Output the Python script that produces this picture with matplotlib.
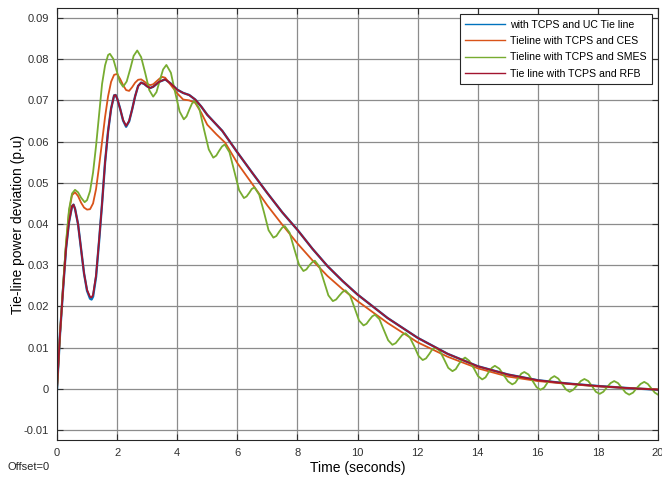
import matplotlib
matplotlib.use("Agg")
import matplotlib.pyplot as plt

plt.rcParams['font.family'] = ['Liberation Sans', 'DejaVu Sans']

# TCPS + UC and TCPS + RFB (almost on top of each other)
t_uc = [0, 0.1, 0.2, 0.3, 0.4, 0.5, 0.55, 0.6, 0.7, 0.8, 0.9, 1.0, 1.1, 1.15, 1.2, 1.3, 1.4, 1.5,
        1.6, 1.7, 1.8, 1.9, 1.95, 2.0, 2.1, 2.2, 2.3, 2.4, 2.5, 2.6, 2.7, 2.8, 2.9, 3.0, 3.1, 3.2,
        3.4, 3.6, 3.8, 4.0, 4.2, 4.4, 4.6, 4.8, 5.0, 5.5, 6.0, 6.5, 7.0, 7.5, 8.0, 8.5, 9.0, 9.5,
        10, 11, 12, 13, 14, 15, 16, 17, 18, 19, 20]
uc = [0, 0.0133, 0.0240, 0.0340, 0.0405, 0.0443, 0.0447, 0.0437, 0.0400, 0.0340, 0.0280, 0.0238,
      0.0219, 0.0217, 0.0224, 0.0272, 0.0358, 0.0450, 0.0550, 0.0625, 0.0680, 0.0712, 0.0713,
      0.0705, 0.0680, 0.0651, 0.0636, 0.0649, 0.0678, 0.0710, 0.0735, 0.0743, 0.0740, 0.0734,
      0.0730, 0.0733, 0.0745, 0.0751, 0.0740, 0.0726, 0.0718, 0.0713, 0.0702, 0.0685, 0.0665,
      0.0626, 0.0574, 0.0524, 0.0475, 0.0428, 0.0386, 0.0340, 0.0298, 0.0262, 0.0229, 0.0172,
      0.0124, 0.0085, 0.0055, 0.0035, 0.0021, 0.0013, 0.0007, 0.0002, -0.0002]
rfb = [0, 0.0133, 0.0240, 0.0340, 0.0405, 0.0443, 0.0447, 0.0437, 0.0400, 0.0340, 0.0280, 0.0240,
       0.0223, 0.0222, 0.0228, 0.0275, 0.0360, 0.0450, 0.0550, 0.0625, 0.0680, 0.0712, 0.0713,
       0.0705, 0.0680, 0.0652, 0.0638, 0.0650, 0.0678, 0.0710, 0.0735, 0.0743, 0.0740, 0.0734,
       0.0730, 0.0733, 0.0745, 0.0751, 0.0740, 0.0726, 0.0718, 0.0713, 0.0702, 0.0685, 0.0665,
       0.0626, 0.0574, 0.0524, 0.0475, 0.0428, 0.0386, 0.0340, 0.0298, 0.0262, 0.0229, 0.0172,
       0.0124, 0.0085, 0.0055, 0.0035, 0.0021, 0.0013, 0.0007, 0.0002, -0.0002]

# TCPS + CES
t_ces = [0, 0.1, 0.2, 0.3, 0.4, 0.5, 0.6, 0.7, 0.8, 0.9, 1.0, 1.1, 1.2, 1.3, 1.4, 1.5, 1.6, 1.7,
         1.8, 1.9, 2.0, 2.1, 2.2, 2.3, 2.4, 2.5, 2.6, 2.7, 2.8, 2.9, 3.0, 3.1, 3.2, 3.4, 3.5, 3.6,
         3.8, 4.0, 4.2, 4.4, 4.6, 4.8, 5.0, 5.3, 5.6, 6.0, 6.5, 7.0, 7.5, 8.0, 8.5, 9.0, 9.5, 10,
         11, 12, 13, 14, 15, 16, 17, 18, 19, 20]
ces = [0, 0.0133, 0.0245, 0.0350, 0.0430, 0.0470, 0.0477, 0.0468, 0.0452, 0.0440, 0.0435, 0.0436,
       0.0450, 0.0485, 0.0540, 0.0600, 0.0660, 0.0710, 0.0745, 0.0762, 0.0764, 0.0752, 0.0737,
       0.0725, 0.0723, 0.0732, 0.0743, 0.0750, 0.0751, 0.0746, 0.0740, 0.0737, 0.0739, 0.0752,
       0.0757, 0.0755, 0.0736, 0.0717, 0.0702, 0.0700, 0.0694, 0.0670, 0.0641, 0.0618, 0.0597,
       0.0548, 0.0497, 0.0445, 0.0398, 0.0353, 0.0312, 0.0274, 0.0242, 0.0213, 0.0160, 0.0113,
       0.0078, 0.0050, 0.0030, 0.0019, 0.0012, 0.0006, 0.0002, -0.0001]

# TCPS + SMES (oscillating)
t_smes = [0, 0.1, 0.2, 0.3, 0.4, 0.5, 0.6, 0.7, 0.8, 0.92, 1.0, 1.1, 1.2, 1.3, 1.4, 1.5, 1.6, 1.7,
          1.76, 1.87, 1.98, 2.09, 2.2, 2.32, 2.44, 2.55, 2.67, 2.80, 2.94, 3.07, 3.2, 3.31, 3.42,
          3.53, 3.64, 3.79, 3.93, 4.08, 4.22, 4.31, 4.40, 4.49, 4.58, 4.74, 4.89, 5.05, 5.2, 5.30,
          5.39, 5.49, 5.58, 5.74, 5.90, 6.06, 6.22, 6.31, 6.40, 6.48, 6.57, 6.73, 6.89, 7.04, 7.2,
          7.30, 7.39, 7.49, 7.58, 7.74, 7.89, 8.05, 8.2, 8.30, 8.39, 8.49, 8.58, 8.73, 8.88, 9.03,
          9.18, 9.29, 9.39, 9.50, 9.6, 9.75, 9.90, 10.05, 10.2, 10.30, 10.39, 10.49, 10.58, 10.73,
          10.87, 11.02, 11.16, 11.27, 11.38, 11.49, 11.6, 11.74, 11.89, 12.03, 12.17, 12.28, 12.39,
          12.49, 12.6, 12.74, 12.88, 13.02, 13.16, 13.27, 13.37, 13.48, 13.58, 13.72, 13.87, 14.01,
          14.15, 14.26, 14.36, 14.47, 14.57, 14.72, 14.86, 15.01, 15.15, 15.25, 15.35, 15.45, 15.55,
          15.69, 15.82, 15.96, 16.09, 16.21, 16.32, 16.44, 16.55, 16.68, 16.81, 16.93, 17.06, 17.18,
          17.31, 17.43, 17.55, 17.68, 17.81, 17.93, 18.06, 18.18, 18.30, 18.42, 18.54, 18.67, 18.79,
          18.92, 19.04, 19.17, 19.29, 19.42, 19.54, 19.66, 19.77, 19.89, 20]
smes = [0, 0.0133, 0.0248, 0.0355, 0.0435, 0.0474, 0.0483, 0.0477, 0.0464, 0.0453, 0.0458, 0.0480,
        0.0525, 0.0590, 0.0665, 0.0740, 0.0785, 0.0810, 0.0813, 0.0801, 0.0773, 0.0745, 0.0733,
        0.0746, 0.0777, 0.0808, 0.0821, 0.0805, 0.0765, 0.0725, 0.0709, 0.0720, 0.0748, 0.0775,
        0.0786, 0.0767, 0.0720, 0.0673, 0.0654, 0.0661, 0.0677, 0.0692, 0.0699, 0.0679, 0.0630,
        0.0581, 0.0561, 0.0566, 0.0577, 0.0588, 0.0593, 0.0574, 0.0528, 0.0482, 0.0463, 0.0467,
        0.0476, 0.0485, 0.0489, 0.0471, 0.0428, 0.0385, 0.0367, 0.0371, 0.0381, 0.0391, 0.0395,
        0.0379, 0.0341, 0.0302, 0.0286, 0.0290, 0.0299, 0.0307, 0.0311, 0.0297, 0.0262, 0.0227,
        0.0213, 0.0217, 0.0226, 0.0235, 0.0239, 0.0227, 0.0197, 0.0166, 0.0154, 0.0158, 0.0167,
        0.0176, 0.0180, 0.0169, 0.0144, 0.0118, 0.0107, 0.0111, 0.0121, 0.0131, 0.0135, 0.0125,
        0.0103, 0.0080, 0.0070, 0.0074, 0.0085, 0.0096, 0.0100, 0.0092, 0.0072, 0.0051, 0.0043,
        0.0048, 0.0060, 0.0071, 0.0076, 0.0068, 0.0050, 0.0031, 0.0023, 0.0028, 0.0040, 0.0051,
        0.0056, 0.0049, 0.0034, 0.0018, 0.0011, 0.0015, 0.0026, 0.0037, 0.0041, 0.0035, 0.0020,
        0.0004, -0.0002, 0.0003, 0.0015, 0.0026, 0.0031, 0.0025, 0.0012, -0.0001, -0.0007, -0.0002,
        0.0009, 0.0019, 0.0024, 0.0019, 0.0006, -0.0007, -0.0012, -0.0007, 0.0004, 0.0014, 0.0019,
        0.0014, 0.0003, -0.0009, -0.0014, -0.0009, 0.0002, 0.0012, 0.0017, 0.0012, 0.0002, -0.0009,
        -0.0014]

x_ticks = [0, 2, 4, 6, 8, 10, 12, 14, 16, 18, 20]
y_ticks = [-0.01, 0, 0.01, 0.02, 0.03, 0.04, 0.05, 0.06, 0.07, 0.08, 0.09]
y_labels = ['-0.01', '0', '0.01', '0.02', '0.03', '0.04', '0.05', '0.06', '0.07', '0.08', '0.09']
legend_names = ['with TCPS and UC Tie line', 'Tieline with TCPS and CES',
                'Tieline with TCPS and SMES', 'Tie line with TCPS and RFB']

fig = plt.figure(figsize=(6.62, 4.79), dpi=100)
ax = fig.add_axes([0.0861, 0.0814, 0.9079, 0.9018])

ax.plot(t_uc, uc, color='#0072BD', lw=1.7, label=legend_names[0])
ax.plot(t_ces, ces, color='#D95319', lw=1.3, label=legend_names[1])
ax.plot(t_smes, smes, color='#77AC30', lw=1.3, label=legend_names[2])
ax.plot(t_uc, rfb, color='#A2142F', lw=1.3, label=legend_names[3])

ax.set_xlim(0, 20)
ax.set_ylim(-0.0124, 0.0924)
ax.set_xticks(x_ticks)
ax.set_yticks(y_ticks)
ax.set_yticklabels(y_labels)
ax.tick_params(labelsize=8, direction='in', top=True, right=True, length=4, width=0.8,
               colors='#303030', pad=6)
ax.grid(True, color='#8c8c8c', lw=0.9)
for s in ax.spines.values():
    s.set_color('#262626')
    s.set_linewidth(0.8)

ax.set_xlabel('Time (seconds)', fontsize=10, labelpad=2)
ax.set_ylabel('Tie-line power deviation (p.u)', fontsize=10, labelpad=-1)

leg = ax.legend(loc='upper right', fontsize=7.6, frameon=True, fancybox=False, framealpha=1,
                handlelength=3.8, borderaxespad=0.6, labelspacing=0.6, handletextpad=0.45,
                borderpad=0.5)
leg.get_frame().set_edgecolor('#262626')
leg.get_frame().set_linewidth(0.8)
for h in leg.get_lines():
    h.set_linewidth(1.0)

fig.text(0.012, 0.018, 'Offset=0', fontsize=8, color='#262626')

fig.savefig('out.png', dpi=100)
